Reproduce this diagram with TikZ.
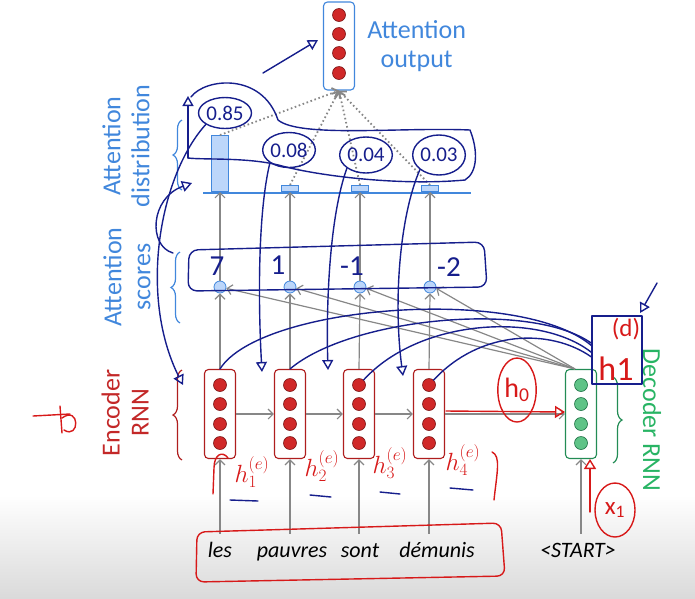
\documentclass[tikz,border=0pt]{standalone}
\usepackage{fontspec}
\setmainfont{Carlito}
\usetikzlibrary{positioning,arrows.meta,decorations.pathreplacing,shapes.geometric}

\definecolor{encred}{RGB}{175,30,30}
\definecolor{enctext}{RGB}{195,40,40}
\definecolor{encdot}{RGB}{208,40,40}
\definecolor{decgreen}{RGB}{35,140,85}
\definecolor{decdot}{RGB}{95,195,135}
\definecolor{dectext}{RGB}{40,180,100}
\definecolor{attblue}{RGB}{65,135,220}
\definecolor{attfill}{RGB}{188,214,250}
\definecolor{arrgray}{RGB}{135,135,135}
\definecolor{ink}{RGB}{22,30,140}
\definecolor{redink}{RGB}{215,25,25}
\definecolor{bggray}{RGB}{218,218,218}

\begin{document}
\begin{tikzpicture}[x=1pt,y=-1pt,
    vecbox/.style={draw,line width=1.1pt,rounded corners=4pt,minimum width=31pt,minimum height=89pt,inner sep=0pt,fill=white},
    encbox/.style={vecbox,draw=encred},
    decbox/.style={vecbox,draw=decgreen},
    outbox/.style={vecbox,draw=attblue,minimum height=88pt},
    unit/.style={circle,draw=encred!70!black,fill=encdot,minimum size=13pt,inner sep=0pt,line width=0.6pt},
    decunit/.style={unit,draw=decgreen!80!black,fill=decdot},
    score/.style={circle,draw=attblue,fill=attfill,minimum size=12pt,inner sep=0pt,line width=0.8pt},
    bar/.style={draw=attblue,fill=attfill,line width=1pt,minimum width=17pt,inner sep=0pt},
    flow/.style={draw=arrgray,line width=1.2pt,-{Straight Barb[length=5pt,width=10pt]}},
    weight/.style={flow,line width=1.8pt,dash pattern=on 1.6pt off 2.6pt},
    lbl/.style={font=\fontsize{26}{29}\selectfont,align=center,inner sep=0pt},
    word/.style={font=\fontsize{22}{26}\selectfont\itshape,inner xsep=1pt,inner ysep=8pt,text height=15pt,text depth=5pt},
    brc/.style={decorate,decoration={brace,amplitude=9pt},line width=1.2pt},
    ink/.style={draw=ink,line width=1.4pt,line cap=round,line join=round},
    inkarrow/.style={ink,-{Triangle[open,length=10pt,width=11pt]}},
    inktext/.style={text=ink,font=\fontsize{29}{29}\selectfont,inner sep=1pt},
    inkcirc/.style={ellipse,ink,inner sep=0pt,text=ink,font=\fontsize{21}{21}\selectfont},
    redpen/.style={draw=redink,line width=1.4pt,line cap=round,line join=round},
    redarrow/.style={redpen,-{Triangle[open,length=10pt,width=12pt]}},
    redtext/.style={text=redink,font=\fontsize{25}{25}\selectfont,inner sep=1pt}
  ]
  \useasboundingbox (0,0) rectangle (695,598);
  \fill[top color=white,bottom color=bggray] (0,495) rectangle (695,598);

  % attention output
  \node[outbox] (out) at (339,46) {};
  \foreach \k/\y in {1/15,2/34,3/53,4/73}
    \node[unit] (out-\k) at (339,\y) {};
  \node[lbl,text=attblue,right=12pt of out] (outlbl) {Attention\\output};

  % distribution axis and bars
  \draw[attblue,line width=1.2pt] (203,193) -- (471,193);
  \foreach \i/\x/\h in {1/220/56,2/290/6,3/360/6,4/430/6}
    \node[bar,anchor=south,minimum height=\h pt] (bar\i) at (\x,192) {};

  % scores
  \foreach \i/\x in {1/220,2/290,3/360,4/430}
    \node[score] (s\i) at (\x,287) {};

  % encoder and decoder states
  \foreach \i/\x in {1/220,2/290,3/359,4/429} {
    \node[encbox] (enc\i) at (\x,414) {};
    \foreach \k/\y in {1/385,2/404,3/424,4/443}
      \node[unit] (enc\i-\k) at (\x,\y) {};
  }
  \node[decbox] (dec) at (581,414) {};
  \foreach \k/\y in {1/385,2/404,3/424,4/443}
    \node[decunit] (dec-\k) at (581,\y) {};

  % words
  \node[word] (w1) at (220,552) {les};
  \node[word] (w2) at (292,552) {pauvres};
  \node[word] (w3) at (360,552) {sont};
  \node[word] (w4) at (437,552) {démunis};
  \node[word] (wstart) at (578,552) {<START>};

  % gray connectors
  \foreach \i in {1,2,3,4} {
    \draw[flow] (enc\i.south |- w\i.north) -- (enc\i.south);
    \draw[flow] (enc\i.north) -- (s\i.south);
    \draw[flow] (s\i.north) -- (bar\i.south);
    \draw[flow] ([xshift=-6pt]dec.north) -- (s\i.-12);
    \draw[weight] (bar\i.north) -- (out.south);
  }
  \draw[flow] (dec.south |- wstart.north) -- (dec.south);
  \draw[flow] (enc1.east) -- (enc2.west);
  \draw[flow] (enc2.east) -- (enc3.west);
  \draw[flow] (enc3.east) -- (enc4.west);
  \draw[flow] (enc4.east) -- (dec.west);

  % side labels and braces
  \node[lbl,text=attblue,rotate=90] (distlbl) at (126,146) {Attention\\distribution};
  \node[lbl,text=attblue,rotate=90] (scorelbl) at (127,277) {Attention\\scores};
  \node[lbl,text=enctext,rotate=90] (enclbl) at (125,413) {Encoder\\RNN};
  \node[lbl,text=dectext,rotate=-90] (declbl) at (652,420) {Decoder RNN};
  \draw[brc,attblue] (182,190) -- (182,120);
  \draw[brc,attblue] (180,323) -- (180,252);
  \draw[brc,encred] (182,460) -- (182,370);
  \draw[brc,decgreen] (613,377) -- (613,463);

  % pen notes: scores
  \draw[ink,rounded corners=9pt] (189,250) -- (484,242) -- (487,287) -- (188,291) -- cycle;
  \node[inktext] (sc1) at (217,266) {7};
  \node[inktext] (sc2) at (278,265) {1};
  \node[inktext] (sc3) at (352,266) {-1};
  \node[inktext] (sc4) at (449,267) {-2};

  % pen notes: distribution
  \node[inkcirc,minimum width=53pt,minimum height=31pt] (d1) at (225,113) {0.85};
  \node[inkcirc,minimum width=48pt,minimum height=35pt] (d2) at (289,150) {0.08};
  \node[inkcirc,minimum width=48pt,minimum height=36pt] (d3) at (366,155) {0.04};
  \node[inkcirc,minimum width=48pt,minimum height=40pt] (d4) at (439,155) {0.03};
  \draw[inkarrow] (188,158) -- (188,96);
  \draw[ink] (191,97) .. controls (205,78) and (262,72) .. (278,120)
    .. controls (300,138) and (400,127) .. (470,130)
    .. controls (478,150) and (478,172) .. (465,180)
    .. controls (400,186) and (320,176) .. (282,166)
    .. controls (250,157) and (205,160) .. (188,158);
  \draw[inkarrow] (263,73) -- (318,40);
  \draw[inkarrow] (d1.south west) .. controls (160,175) and (138,295) .. (183,385);
  \draw[inkarrow] (173,253) .. controls (148,246) and (150,198) .. (192,183);
  \draw[inkarrow] (d2.south west) .. controls (258,212) and (258,300) .. (262,372);
  \draw[inkarrow] (d3.south west) .. controls (330,215) and (326,300) .. (328,370);
  \draw[inkarrow] (d4.south west) .. controls (400,215) and (393,300) .. (403,376);

  % pen notes: decoder state
  \node[ink,draw,minimum width=50pt,minimum height=68pt,inner sep=0pt] (h1box) at (617,350) {};
  \node[redtext] (dlbl) at (626,329) {(d)};
  \node[redtext,font=\fontsize{34}{34}\selectfont] (h1lbl) at (616,369) {h1};
  \draw[inkarrow] (657,283) -- (640,313);
  \draw[ink] (enc1.north) .. controls (260,305) and (520,285) .. (h1box.170);
  \draw[ink] (enc2.north) .. controls (350,318) and (530,300) .. (h1box.165);
  \draw[ink] (enc3-1) .. controls (420,318) and (540,312) .. (h1box.185);
  \draw[ink] (enc4-1) .. controls (480,330) and (550,328) .. (h1box.195);

  % pen notes: red
  \node[ellipse,redpen,minimum width=38pt,minimum height=64pt,inner sep=0pt,redtext,font=\fontsize{28}{28}\selectfont] (h0) at (517,390) {h\textsubscript{0}};
  \draw[redarrow] (446,411) -- (565,412);
  \node[ellipse,redpen,minimum width=40pt,minimum height=54pt,inner sep=0pt,redtext] (x1) at (615,510) {x\textsubscript{1}};
  \draw[redarrow] (590,512) -- (590,459);
  \node[redtext] (he1) at (252,472) {$h_1^{(e)}$};
  \node[redtext] (he2) at (322,466) {$h_2^{(e)}$};
  \node[redtext] (he3) at (390,463) {$h_3^{(e)}$};
  \node[redtext] (he4) at (463,460) {$h_4^{(e)}$};
  \draw[ink] (230,500) -- (258,501);
  \draw[ink] (310,495) -- (331,497);
  \draw[ink] (380,492) -- (400,494);
  \draw[ink] (450,488) -- (473,490);
  \draw[redpen] (492,452) .. controls (501,456) and (497,472) .. (494,500);
  \draw[redpen] (213,494) -- (214,468) .. controls (214,455) and (222,450) .. (228,458);
  \draw[redpen,rounded corners=8pt] (197,532) -- (501,523) -- (505,576) -- (196,582) -- cycle;
  \draw[redpen] (33,416) -- (70,414);
  \draw[redpen] (60,406) -- (62,433);
  \draw[redpen] (62,418) .. controls (80,405) and (80,440) .. (64,430);
\end{tikzpicture}
\end{document}
